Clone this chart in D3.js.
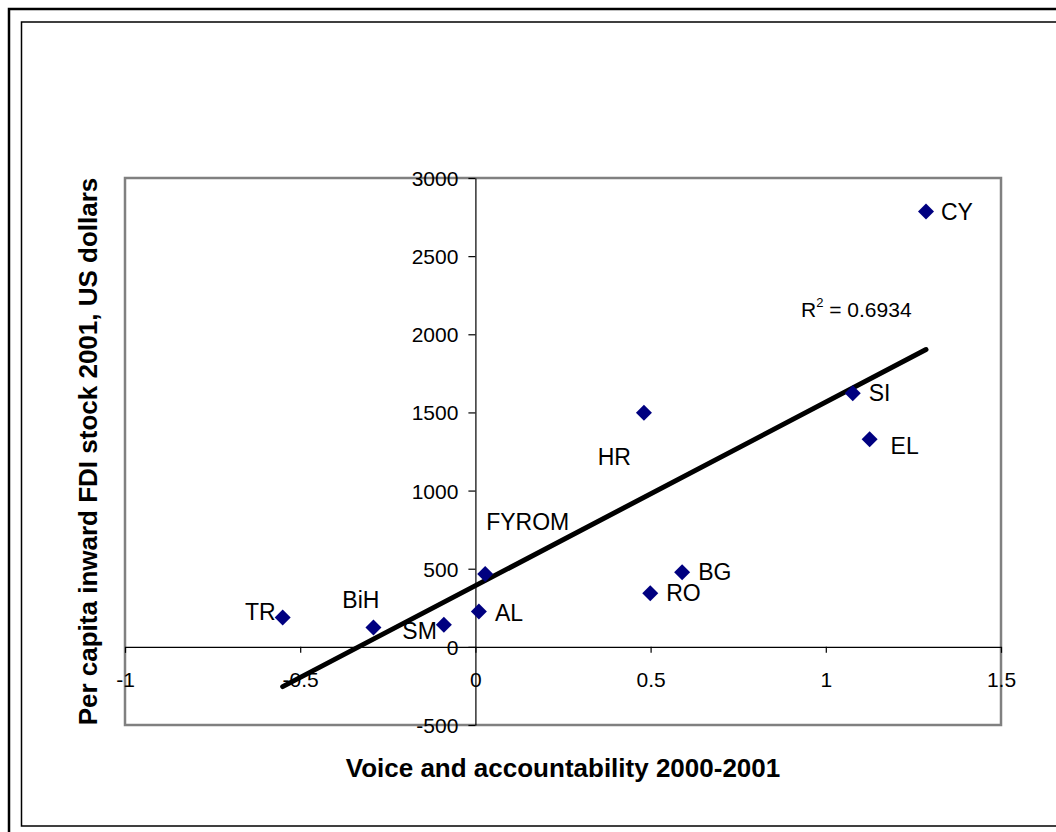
<!DOCTYPE html>
<html><head><meta charset="utf-8">
<script src="https://cdn.jsdelivr.net/npm/d3@7"></script>
<style>
body{margin:0;background:#fff}
svg{display:block}
text{font-family:"Liberation Sans",Arial,sans-serif;fill:#000}
</style>
</head><body>
<svg id="c" width="1056" height="832"></svg>
<script>
// ---- data ----
const countries = ["CY","SI","EL","HR","FYROM","BG","RO","AL","SM","BiH","TR"];
const voice = [1.286,1.077,1.125,0.481,0.028,0.590,0.499,0.010,-0.090,-0.291,-0.550];
const fdi = [2785,1623,1329,1498,466,477,343,226,141,124,188];
const xTicks = [-1,-0.5,0,0.5,1,1.5];
const yTicks = [-500,0,500,1000,1500,2000,2500,3000];
const rSquaredText = "0.6934";
const xTitle = "Voice and accountability 2000-2001";
const yTitle = "Per capita inward FDI stock 2001, US dollars";

// ---- layout ----
const svg = d3.select("#c");
const L = 125, R = 1001, T = 178, B = 725;
const x = d3.scaleLinear().domain([-1,1.5]).range([L,R]);
const y = d3.scaleLinear().domain([-500,3000]).range([B,T]);

// label placement (dx from marker, dy to baseline, anchor)
const labelPos = {
  CY:{dx:15,dy:8,a:"start"}, SI:{dx:16,dy:8,a:"start"}, EL:{dx:21,dy:15,a:"start"},
  HR:{dx:-13,dy:52,a:"end"}, FYROM:{dx:1,dy:-44,a:"start"}, BG:{dx:16,dy:8,a:"start"},
  RO:{dx:16,dy:8,a:"start"}, AL:{dx:16,dy:9,a:"start"}, SM:{dx:-7,dy:14,a:"end"},
  BiH:{dx:6,dy:-19,a:"end"}, TR:{dx:-7,dy:3,a:"end"}
};

// outer frames
svg.append("rect").attr("x",9).attr("y",9).attr("width",1200).attr("height",1000)
  .attr("fill","none").attr("stroke","#000").attr("stroke-width",2.5);
svg.append("rect").attr("x",21.5).attr("y",22).attr("width",1200).attr("height",804)
  .attr("fill","none").attr("stroke","#000").attr("stroke-width",1.5);

// plot area border
svg.append("rect").attr("x",L).attr("y",T).attr("width",R-L).attr("height",B-T)
  .attr("fill","none").attr("stroke","#808080").attr("stroke-width",2.5);

// x axis at y=0
const xAxis = svg.append("g").attr("transform",`translate(0,${y(0)})`)
  .call(d3.axisBottom(x).tickValues(xTicks).tickSize(6).tickSizeOuter(0).tickFormat(d=>String(d)));
xAxis.select(".domain").attr("stroke","#000").attr("stroke-width",1.2);
xAxis.selectAll(".tick line").attr("stroke","#000").attr("stroke-width",1.2);
xAxis.selectAll(".tick text").attr("y",40).attr("dy",0).attr("font-size",21)
  .style("font-family",'"Liberation Sans",Arial,sans-serif');

// y axis at x=0
const yAxis = svg.append("g").attr("transform",`translate(${x(0)},0)`)
  .call(d3.axisLeft(y).tickValues(yTicks).tickSize(7).tickSizeOuter(0).tickPadding(10).tickFormat(d=>String(d)));
yAxis.select(".domain").attr("stroke","#000").attr("stroke-width",1.2);
yAxis.selectAll(".tick line").attr("stroke","#000").attr("stroke-width",1.2);
yAxis.selectAll(".tick text").attr("dy","0.36em").attr("font-size",21)
  .style("font-family",'"Liberation Sans",Arial,sans-serif');

// regression line
const n = voice.length;
const mx = d3.mean(voice), my = d3.mean(fdi);
let sxy=0, sxx=0;
for(let i=0;i<n;i++){ sxy += (voice[i]-mx)*(fdi[i]-my); sxx += (voice[i]-mx)**2; }
const slope = sxy/sxx, icpt = my - slope*mx;
const [x0,x1] = d3.extent(voice);
svg.append("line")
  .attr("x1",x(x0)).attr("y1",y(icpt+slope*x0))
  .attr("x2",x(x1)).attr("y2",y(icpt+slope*x1))
  .attr("stroke","#000").attr("stroke-width",5).attr("stroke-linecap","round");

// points
const pts = countries.map((c,i)=>({c, vx:voice[i], vy:fdi[i]}));
const sym = d3.symbol().type(d3.symbolSquare).size(128);
svg.append("g").selectAll("path").data(pts).join("path")
  .attr("d",sym)
  .attr("transform",d=>`translate(${x(d.vx)},${y(d.vy)}) rotate(45)`)
  .attr("fill","#000080");

// point labels
svg.append("g").selectAll("text").data(pts).join("text")
  .attr("x",d=>x(d.vx)+labelPos[d.c].dx)
  .attr("y",d=>y(d.vy)+labelPos[d.c].dy)
  .attr("text-anchor",d=>labelPos[d.c].a)
  .attr("font-size",23)
  .text(d=>d.c);

// R squared label
const rt = svg.append("text").attr("x",801).attr("y",317).attr("font-size",21);
rt.append("tspan").text("R");
rt.append("tspan").attr("font-size",13).attr("dy",-10).text("2");
rt.append("tspan").attr("dy",10).text(" = " + rSquaredText);

// axis titles
svg.append("text").attr("x",(L+R)/2).attr("y",777).attr("text-anchor","middle")
  .attr("font-size",26).attr("font-weight","bold").text(xTitle);
svg.append("text").attr("transform",`translate(97,${(T+B)/2}) rotate(-90)`)
  .attr("text-anchor","middle").attr("font-size",26).attr("font-weight","bold").text(yTitle);
</script>
</body></html>
